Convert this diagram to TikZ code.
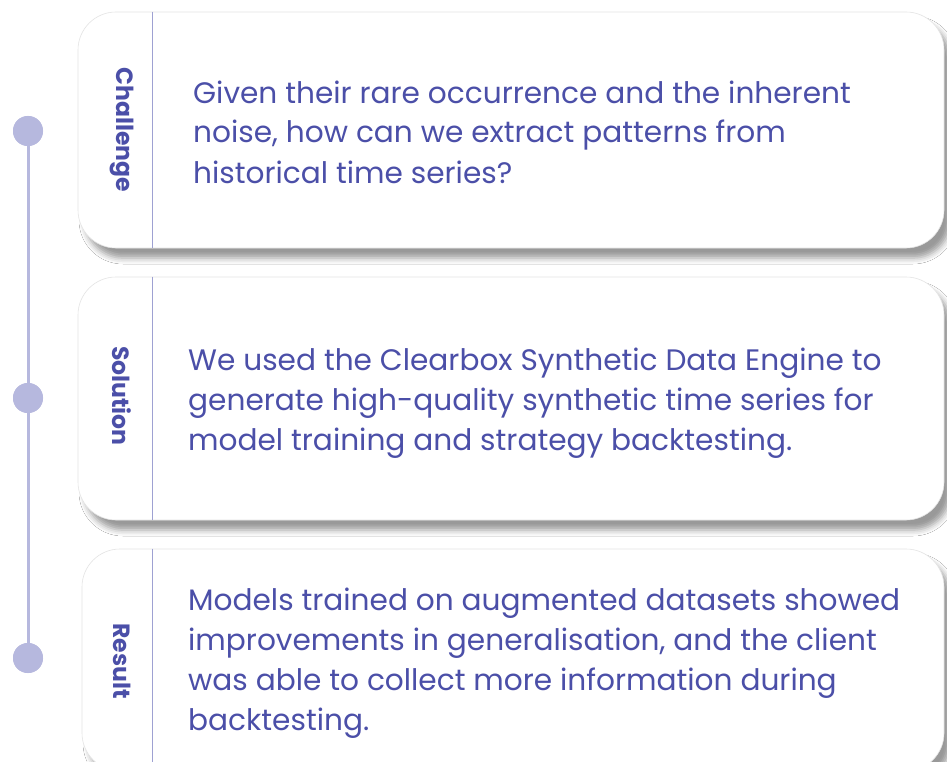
\documentclass[tikz,border=0pt]{standalone}
\usepackage{fontspec}
\setmainfont{Poppins}
\usetikzlibrary{shadows.blur}
\definecolor{ink}{HTML}{4B4FA8}
\definecolor{dotc}{HTML}{B6B8DE}
\definecolor{divc}{HTML}{9EA1D2}
\definecolor{edgec}{HTML}{E4E4E4}
\tikzset{
  card/.style={draw=edgec, line width=0.6pt, fill=white, rounded corners=38pt,
    blur shadow={shadow xshift=7pt, shadow yshift=-10pt, shadow blur radius=6pt, shadow opacity=40},
    inner sep=0pt},
  divider/.style={draw=divc, line width=1.3pt},
  dotnode/.style={circle, fill=dotc, minimum size=30pt, inner sep=0pt},
  rail/.style={draw=dotc, line width=3pt},
  lab/.style={rotate=-90, text=ink, font=\fontsize{23.5}{28}\selectfont\bfseries, inner sep=0pt},
  body/.style={anchor=base west, text=ink, align=left, inner sep=0pt,
    font=\fontsize{29.6}{40}\selectfont},
}
\begin{document}
\begin{tikzpicture}[x=1pt,y=-1pt]
\useasboundingbox (0,0) rectangle (947,762);
\fill[white] (0,0) rectangle (947,762);
\clip (0,0) rectangle (947,762);

% timeline
\node[dotnode] (d1) at (28,131) {};
\node[dotnode] (d2) at (28,398) {};
\node[dotnode] (d3) at (28,658) {};
\draw[rail] (d1.center) -- (d2.center);
\draw[rail] (d2.center) -- (d3.center);
\node[dotnode] at (d1) {};
\node[dotnode] at (d2) {};
\node[dotnode] at (d3) {};

% cards
\node[card, minimum width=866pt, minimum height=236pt] (c1) at (511,130) {};
\node[card, minimum width=866pt, minimum height=243pt] (c2) at (511,398.5) {};
\node[card, minimum width=862pt, minimum height=222pt] (c3) at (513,660) {};

\draw[divider] ([xshift=75pt]c1.north west) -- ([xshift=75pt]c1.south west);
\draw[divider] ([xshift=75pt]c2.north west) -- ([xshift=75pt]c2.south west);
\draw[divider] ([xshift=71pt]c3.north west) -- ([xshift=71pt]c3.south west);

% labels
\node[lab] (l1) at (122,130) {Challenge};
\node[lab] (l2) at (122,396) {Solution};
\node[lab] (l3) at (122,661) {Result};

% texts (anchor at baseline of the last line)
\node[body] (t1) at (193,183) {Given their rare occurrence and the inherent\\noise, how can we extract patterns from\\historical time series?};
\node[body] (t2) at (188,450) {We used the Clearbox Synthetic Data Engine to\\generate high-quality synthetic time series for\\model training and strategy backtesting.};
\node[body] (t3) at (188,730) {Models trained on augmented datasets showed\\improvements in generalisation, and the client\\was able to collect more information during\\backtesting.};
\end{tikzpicture}
\end{document}
